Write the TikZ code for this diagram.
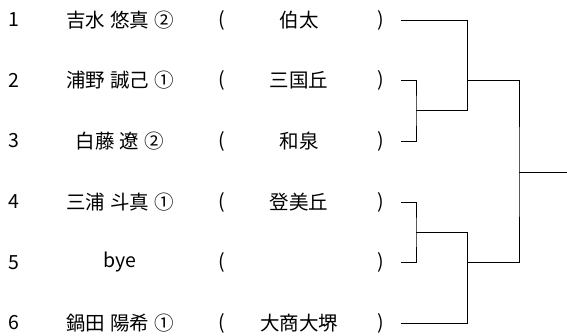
\documentclass[tikz,border=0pt]{standalone}
\usepackage{fontspec}
\setmainfont[WordSpace=1.2]{Noto Sans CJK JP}
\begin{document}
\begin{tikzpicture}[x=1pt,y=-1pt,font=\fontsize{19.5}{19.5}\selectfont]
\tikzset{txt/.style={inner sep=0pt,anchor=center},
  bracket/.style={line width=0.9pt}}
\useasboundingbox (0,0) rectangle (567,336);
% entries
\foreach \n/\who/\club/\y in {1/吉水 悠真 ②/伯太/20,2/浦野 誠己 ①/三国丘/80.5,
  3/白藤 遼 ②/和泉/141,4/三浦 斗真 ①/登美丘/202,5/bye//262.5,6/鍋田 陽希 ①/大商大堺/323}{
  \node[txt] (num\n) at (14,\y) {\n};
  \node[txt] (name\n) at (120,\y) {\who};
  \node[txt] (op\n) at (222,\y) {(};
  \node[txt] (club\n) at (299,\y) {\club};
  \node[txt] (cp\n) at (381,\y) {)};
  \coordinate (e\n) at (401,\y);
}
% bracket joints
\coordinate (a) at (416,110.5);
\coordinate (a2) at (467,110.5);
\coordinate (b) at (467,80.5);
\coordinate (c) at (416,232.3);
\coordinate (c2) at (467,232.3);
\coordinate (d) at (467,262.5);
\coordinate (f) at (519,172.3);
\coordinate (win) at (567,172.3);

\draw[bracket] (e2) -| (a) |- (e3);
\draw[bracket] (e1) -| (a2) -- (a);
\draw[bracket] (e4) -| (c) |- (e5);
\draw[bracket] (e6) -| (c2) -- (c);
\draw[bracket] (b) -| (f) |- (d);
\draw[bracket] (f) -- (win);

\end{tikzpicture}
\end{document}
